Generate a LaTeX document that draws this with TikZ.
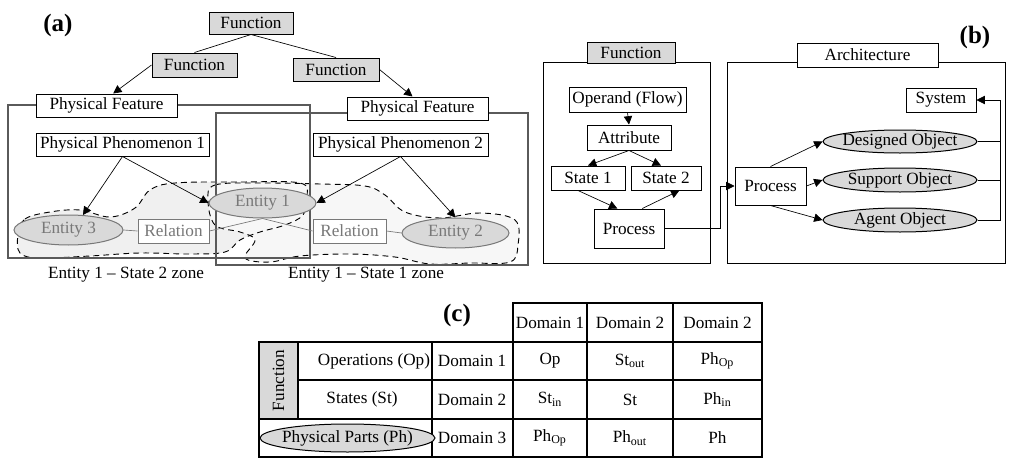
\documentclass[tikz,border=0pt]{standalone}
\usepackage{fontspec}
\setmainfont{Liberation Serif}
\usetikzlibrary{arrows.meta,shapes.geometric}

\definecolor{boxgrey}{RGB}{217,217,217}
\definecolor{framegrey}{RGB}{90,90,90}
\definecolor{entgrey}{RGB}{120,120,120}

\tikzset{
	sz/.style 2 args={minimum width=#1*0.6pt, minimum height=#2*0.6pt},
	box/.style={draw, fill=white, inner sep=0pt, line width=0.6pt},
	greybox/.style={box, fill=boxgrey},
	entity/.style={ellipse, draw=entgrey, fill=boxgrey, text=entgrey, inner sep=-20pt, line width=0.6pt},
	blackent/.style={ellipse, draw, fill=boxgrey, inner sep=-20pt, line width=0.6pt},
	relbox/.style={draw=entgrey, fill=white, text=entgrey, inner sep=0pt, line width=0.6pt},
	tri/.style={-{Triangle[length=5pt,width=5pt]}},
	panel/.style={font=\fontsize{15}{18}\selectfont\bfseries},
	zone/.style={dash pattern=on 3.5pt off 2.5pt, line width=0.55pt},
	grid/.style={line width=0.8pt}
}

\begin{document}
\begin{tikzpicture}[x=0.6pt, y=-0.6pt, font=\fontsize{10.3}{12}\selectfont]
	\useasboundingbox (0,0) rectangle (1013,461);

	% (a) shaded zones of the two states
	\fill[black!6] plot[smooth cycle, tension=0.6] coordinates {(18,235) (25,219) (50,212) (80,210) (110,217) (135,208) (150,190) (175,183) (240,182) (300,183) (307,197) (303,215) (285,225) (260,232) (240,240) (225,252) (190,254) (140,253) (90,256) (40,258) (20,253)};
	\fill[black!3] plot[smooth cycle, tension=0.6] coordinates {(208,200) (215,185) (260,183) (320,184) (365,186) (385,195) (405,212) (440,218) (480,213) (515,220) (518,245) (510,262) (470,263) (430,264) (395,257) (350,254) (300,256) (270,262) (245,258) (255,240) (240,232) (215,225)};
	\draw[zone] plot[smooth cycle, tension=0.6] coordinates {(18,235) (25,219) (50,212) (80,210) (110,217) (135,208) (150,190) (175,183) (240,182) (300,183) (307,197) (303,215) (285,225) (260,232) (240,240) (225,252) (190,254) (140,253) (90,256) (40,258) (20,253)};
	\draw[zone] plot[smooth cycle, tension=0.6] coordinates {(208,200) (215,185) (260,183) (320,184) (365,186) (385,195) (405,212) (440,218) (480,213) (515,220) (518,245) (510,262) (470,263) (430,264) (395,257) (350,254) (300,256) (270,262) (245,258) (255,240) (240,232) (215,225)};

	% (a) frames of the physical features
	\draw[framegrey, line width=0.7pt] (8,105) rectangle (310,258);
	\draw[framegrey, line width=0.7pt] (216,113) rectangle (528,265);

	% (a) nodes
	\node[panel] (lblA) at (58,25) {(a)};
	\node[greybox, sz={84}{22}] (fTop) at (251,23) {Function};
	\node[greybox, sz={85}{24}] (fLeft) at (194.5,65) {Function};
	\node[greybox, sz={86}{23}] (fRight) at (336,69.5) {Function};
	\node[box, sz={141}{23}] (pfLeft) at (106.5,105.5) {Physical Feature};
	\node[box, sz={141}{23}] (pfRight) at (417.5,108.5) {Physical Feature};
	\node[box, sz={173}{23}] (pp1) at (122.5,144.5) {Physical Phenomenon 1};
	\node[box, sz={175}{23}] (pp2) at (400.5,144.5) {Physical Phenomenon 2};
	\node[entity, sz={107}{30}] (ent1) at (262.5,203) {Entity 1};
	\node[entity, sz={109}{30}] (ent3) at (68.5,230) {Entity 3};
	\node[entity, sz={107}{30}] (ent2) at (455.5,233) {Entity 2};
	\node[relbox, sz={71}{24}] (rel1) at (173.5,231) {Relation};
	\node[relbox, sz={73}{24}] (rel2) at (349.5,231) {Relation};
	\node (zone2) at (126,275) {Entity 1 -- State 2 zone};
	\node (zone1) at (366,275) {Entity 1 -- State 1 zone};

	% (a) connectors
	\draw (fTop.south) -- (fLeft.north);
	\draw (fTop.south) -- (fRight.north);
	\draw[tri] (fLeft.west) -- ([xshift=4pt]pfLeft.north);
	\draw[tri] (fRight.east) -- ([xshift=-3pt]pfRight.north);
	\draw[tri] (pp1.south) -- (ent3.46);
	\draw[tri] (pp1.south) -- (ent1.west);
	\draw[tri] (pp2.south) -- (ent1.east);
	\draw[tri] (pp2.south) -- (ent2.north);
	\draw[entgrey] (ent3.east) -- (rel1.west);
	\draw[entgrey] (rel1.east) -- (ent1.south);
	\draw[entgrey] (ent1.south) -- (rel2.west);
	\draw[entgrey] (rel2.east) -- (ent2.west);

	% (b) frames
	\draw[line width=0.6pt] (543,62) rectangle (710,263);
	\draw[line width=0.6pt] (727,62) rectangle (1005,263);

	% (b) nodes
	\node[panel] (lblB) at (975,37) {(b)};
	\node[greybox, sz={88}{21}] (fnHead) at (631,52.5) {Function};
	\node[box, sz={141}{24}] (archHead) at (867.5,55) {Architecture};
	\node[box, sz={117}{25}] (operand) at (627.5,99.5) {Operand (Flow)};
	\node[box, sz={84}{25}] (attribute) at (629,137.5) {Attribute};
	\node[box, sz={74}{24}] (state1) at (588,178) {State 1};
	\node[box, sz={70}{24}] (state2) at (666,178) {State 2};
	\node[box, sz={70}{39}] (procF) at (629,228.5) {Process};
	\node[box, sz={71}{38}] (procA) at (770.5,186) {Process};
	\node[blackent, sz={154}{23}] (designed) at (900,141.5) {Designed Object};
	\node[blackent, sz={154}{24}] (support) at (900,180) {Support Object};
	\node[blackent, sz={154}{24}] (agent) at (900,220) {Agent Object};
	\node[box, sz={70}{24}] (system) at (941,100) {System};
	\coordinate (sysCorner) at (1000,100);

	% (b) connectors
	\draw[tri] (operand.south) -- (attribute.north);
	\draw[tri] (attribute.south) -- (state1.north);
	\draw[tri] (attribute.south) -- ([xshift=-3pt]state2.north);
	\draw[tri] ([xshift=-6pt]state1.south) -- ([xshift=-7pt]procF.north);
	\draw[tri] ([xshift=8pt]procF.north) -- ([xshift=8pt]state2.south);
	\draw[tri] (procF.east) -- ++(56,0) |- (procA.west);
	\draw[tri] (procA.north) -- (designed.west);
	\draw[tri] (procA.east) -- (support.west);
	\draw[tri] (procA.south) -- (agent.west);
	\draw (designed.east) -- (designed.east -| sysCorner);
	\draw (support.east) -- (support.east -| sysCorner);
	\draw (agent.east) -| (sysCorner);
	\draw[tri] (sysCorner) -- (system.east);

	% (c) table grid
	\fill[boxgrey] (259,342) rectangle (298,419);
	\draw[grid] (513,303) rectangle (762,342);
	\draw[grid] (259,342) rectangle (762,457);
	\draw[grid] (298,380) -- (762,380);
	\draw[grid] (259,419) -- (762,419);
	\draw[grid] (298,342) -- (298,419);
	\draw[grid] (432,342) -- (432,457);
	\draw[grid] (513,303) -- (513,457);
	\draw[grid] (587,303) -- (587,457);
	\draw[grid] (673,303) -- (673,457);

	% (c) table texts
	\node[panel] (lblC) at (457,315) {(c)};
	\node (hd1) at (550,322.5) {Domain 1};
	\node (hd2) at (630,322.5) {Domain 2};
	\node (hd3) at (717.5,322.5) {Domain 2};
	\node[rotate=90] (fnCol) at (278.5,380.5) {Function};
	\node (opRow) at (374,361) {Operations (Op)};
	\node (stRow) at (362,399.5) {States (St)};
	\node[blackent, sz={175}{28}] (phRow) at (347.5,438) {Physical Parts (Ph)};
	\node (dm1) at (472,361) {Domain 1};
	\node (dm2) at (472,399.5) {Domain 2};
	\node (dm3) at (472,438) {Domain 3};
	\node (c11) at (550,361) {Op};
	\node (c12) at (630,361) {St\textsubscript{out}};
	\node (c13) at (717.5,361) {Ph\textsubscript{Op}};
	\node (c21) at (550,399.5) {St\textsubscript{in}};
	\node (c22) at (630,399.5) {St};
	\node (c23) at (717.5,399.5) {Ph\textsubscript{in}};
	\node (c31) at (550,438) {Ph\textsubscript{Op}};
	\node (c32) at (630,438) {Ph\textsubscript{out}};
	\node (c33) at (717.5,438) {Ph};
\end{tikzpicture}
\end{document}
